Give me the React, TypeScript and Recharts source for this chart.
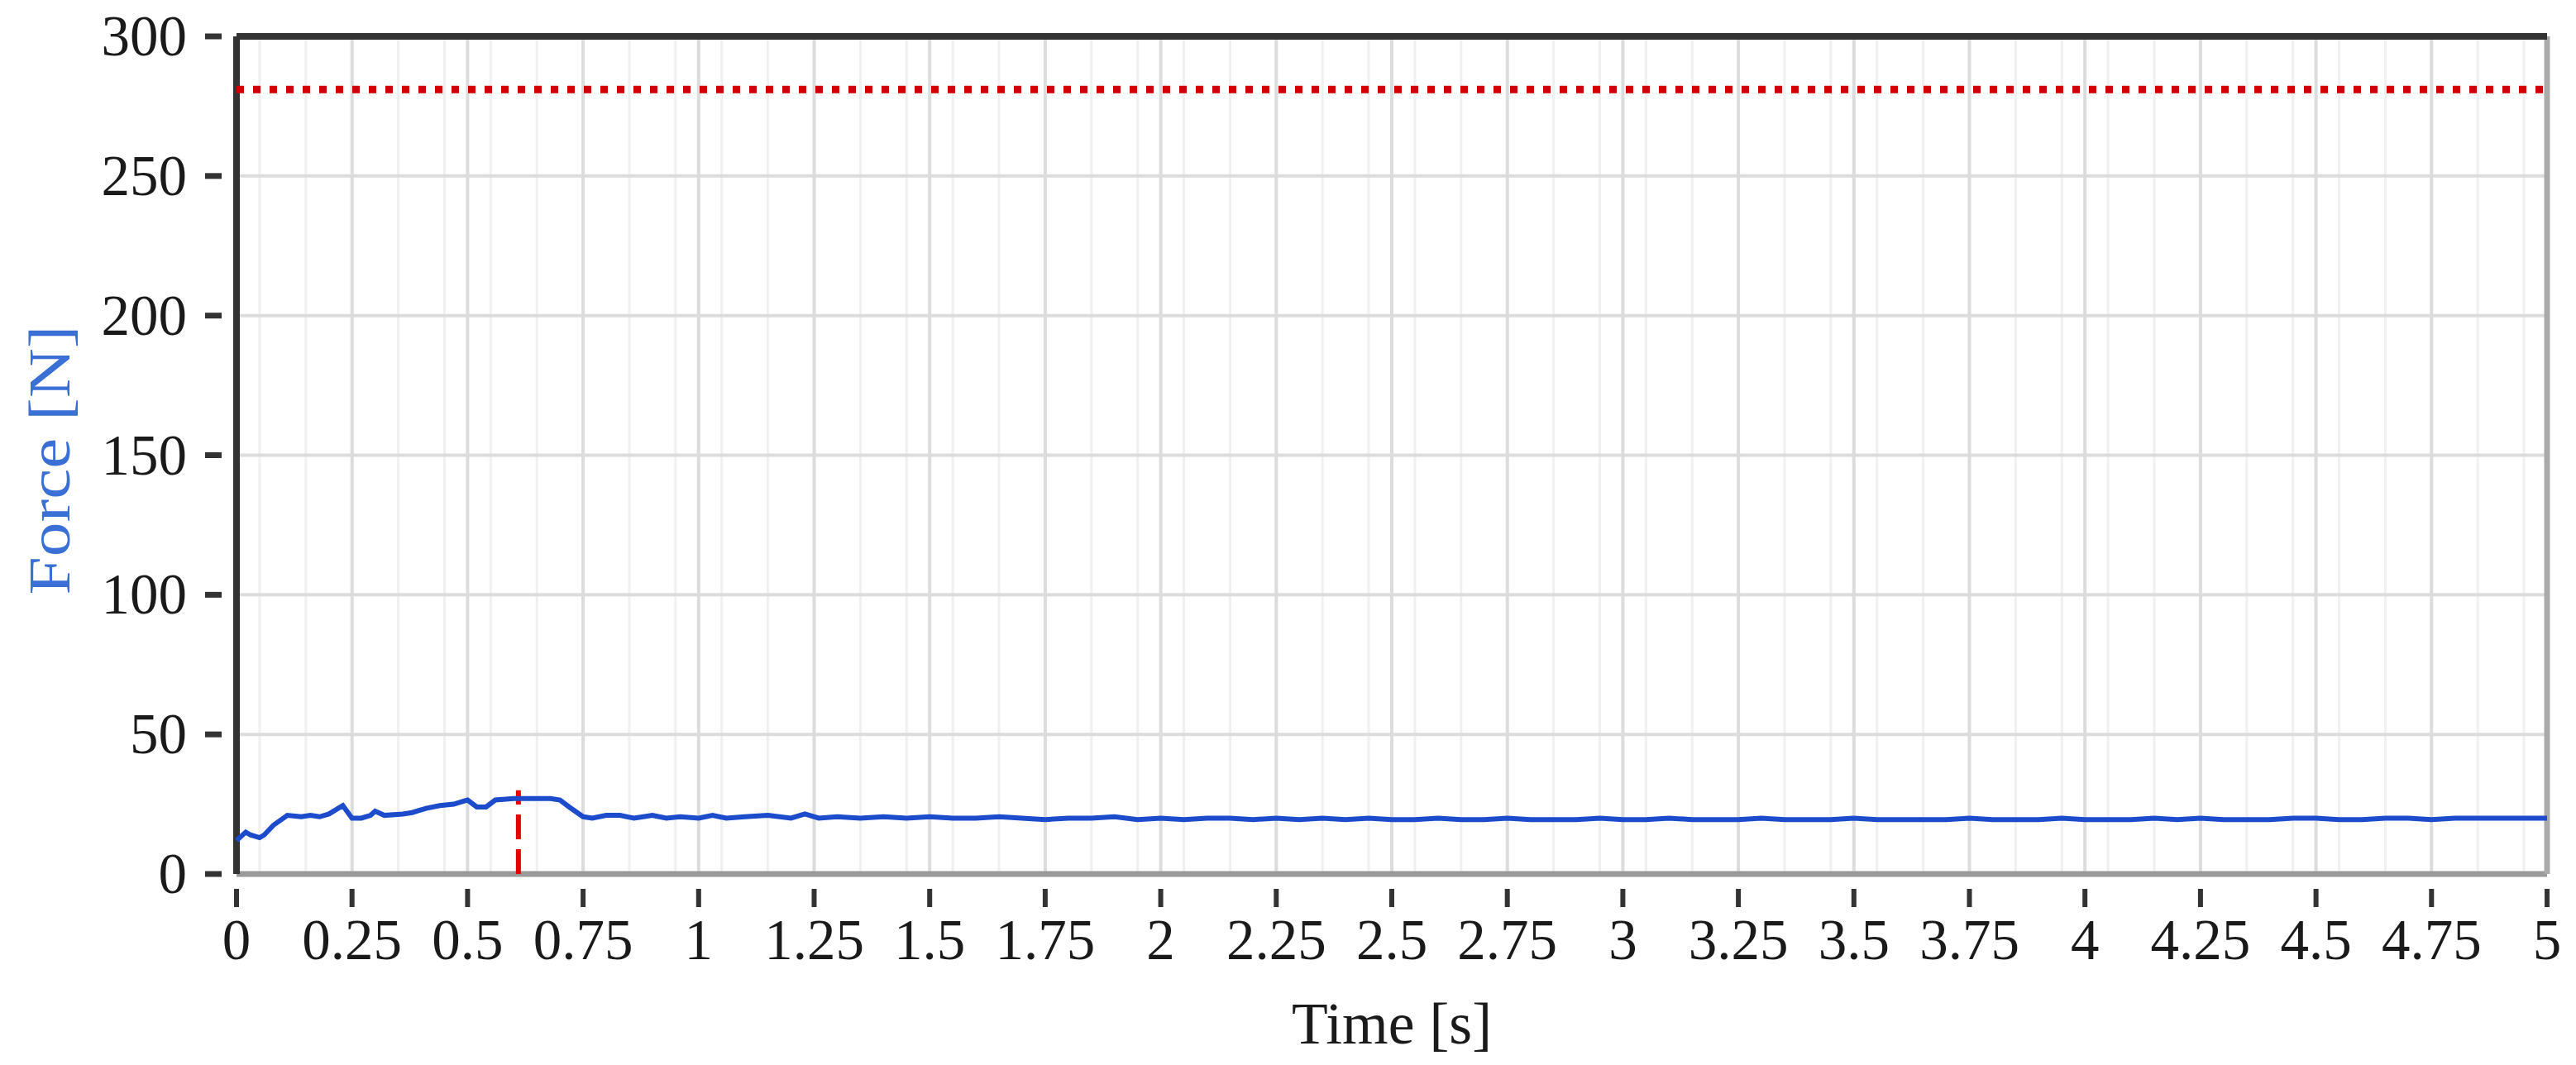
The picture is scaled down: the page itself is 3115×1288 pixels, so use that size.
import { LineChart, Line, XAxis, YAxis, CartesianGrid, ReferenceLine } from 'recharts';

const time = [
  0, 0.02, 0.03, 0.05, 0.06, 0.08, 0.11, 0.14, 0.16, 0.18, 0.2, 0.23, 0.25, 0.27, 0.29, 0.3,
  0.32, 0.36, 0.38, 0.41, 0.44, 0.47, 0.49, 0.5, 0.52, 0.54, 0.56, 0.6, 0.64, 0.68, 0.7, 0.72,
  0.75, 0.77, 0.8, 0.83, 0.86, 0.9, 0.93, 0.96, 1.0, 1.03, 1.06, 1.1, 1.15, 1.2, 1.23, 1.26,
  1.3, 1.35, 1.4, 1.45, 1.5, 1.55, 1.6, 1.65, 1.7, 1.75, 1.8, 1.85, 1.9, 1.95, 2.0, 2.05, 2.1,
  2.15, 2.2, 2.25, 2.3, 2.35, 2.4, 2.45, 2.5, 2.55, 2.6, 2.65, 2.7, 2.75, 2.8, 2.85, 2.9, 2.95,
  3.0, 3.05, 3.1, 3.15, 3.2, 3.25, 3.3, 3.35, 3.4, 3.45, 3.5, 3.55, 3.6, 3.65, 3.7, 3.75, 3.8,
  3.85, 3.9, 3.95, 4.0, 4.05, 4.1, 4.15, 4.2, 4.25, 4.3, 4.35, 4.4, 4.45, 4.5, 4.55, 4.6, 4.65,
  4.7, 4.75, 4.8, 4.85, 4.9, 4.95, 5.0,
];

const force = [
  12, 15, 14, 13, 14, 17.5, 21, 20.5, 21, 20.5, 21.5, 24.5, 20, 20, 21, 22.5,
  21, 21.5, 22, 23.5, 24.5, 25, 26, 26.5, 24, 24, 26.5, 27, 27, 27, 26.5, 24,
  20.5, 20, 21, 21, 20, 21, 20, 20.5, 20, 21, 20, 20.5, 21, 20, 21.5, 20,
  20.5, 20, 20.5, 20, 20.5, 20, 20, 20.5, 20, 19.5, 20, 20, 20.5, 19.5, 20, 19.5, 20,
  20, 19.5, 20, 19.5, 20, 19.5, 20, 19.5, 19.5, 20, 19.5, 19.5, 20, 19.5, 19.5, 19.5, 20,
  19.5, 19.5, 20, 19.5, 19.5, 19.5, 20, 19.5, 19.5, 19.5, 20, 19.5, 19.5, 19.5, 19.5, 20, 19.5,
  19.5, 19.5, 20, 19.5, 19.5, 19.5, 20, 19.5, 20, 19.5, 19.5, 19.5, 20, 20, 19.5, 19.5, 20,
  20, 19.5, 20, 20, 20, 20, 20,
];

const xTicks = [0, 0.25, 0.5, 0.75, 1, 1.25, 1.5, 1.75, 2, 2.25, 2.5, 2.75, 3, 3.25, 3.5, 3.75, 4, 4.25, 4.5, 4.75, 5];
const yTicks = [0, 50, 100, 150, 200, 250, 300];
const xMinorTicks = Array.from({ length: 101 }, (_, i) => Math.round(i * 5) / 100);
const yMinorTicks = Array.from({ length: 31 }, (_, i) => i * 10);

const forceLimit = 281;
const peakTime = 0.61;
const peakMarkTop = 30;

const data = time.map((t, i) => ({ t, force: force[i] }));

const FONT = '"Liberation Serif", "DejaVu Serif", serif';

function YTick(props: any) {
  const { x, y, payload } = props;
  return (
    <g>
      <line x1={x - 38} x2={x - 18} y1={y} y2={y} stroke="#333" strokeWidth={7} />
      <text x={x - 60} y={y} textAnchor="end" dominantBaseline="central" fontFamily={FONT} fontSize={69} fill="#1a1a1a">
        {payload.value}
      </text>
    </g>
  );
}

function XTick(props: any) {
  const { x, y, payload } = props;
  return (
    <g>
      <line x1={x} x2={x} y1={y + 18} y2={y + 40} stroke="#333" strokeWidth={6} />
      <text x={x} y={y + 103} textAnchor="middle" fontFamily={FONT} fontSize={69} fill="#1a1a1a">
        {payload.value}
      </text>
    </g>
  );
}

export default function App() {
  return (
    <div style={{ position: 'absolute', left: 0, top: 0, width: 3115, height: 1288, background: '#fff' }}>
      <LineChart width={3115} height={1288} data={data} margin={{ top: 44, right: 35, left: 0, bottom: 0 }}>
        <XAxis xAxisId="minor" type="number" dataKey="t" domain={[0, 5]} ticks={xMinorTicks} hide />
        <YAxis yAxisId="minor" type="number" domain={[0, 300]} ticks={yMinorTicks} hide />
        <CartesianGrid xAxisId="minor" yAxisId="minor" stroke="#f0f0f0" strokeWidth={3} />
        <CartesianGrid stroke="#dcdcdc" strokeWidth={4} />
        <XAxis
          type="number"
          dataKey="t"
          domain={[0, 5]}
          ticks={xTicks}
          interval={0}
          height={231}
          axisLine={false}
          tickLine={false}
          tickSize={0}
          tickMargin={0}
          tick={<XTick />}
          label={{
            content: (p: any) => {
              const vb = p.viewBox;
              return (
                <text x={vb.x + vb.width / 2} y={vb.y + 205} textAnchor="middle" fontFamily={FONT} fontSize={71} fill="#1a1a1a" textLength={242} lengthAdjust="spacingAndGlyphs">
                  Time [s]
                </text>
              );
            },
          }}
        />
        <YAxis
          type="number"
          domain={[0, 300]}
          ticks={yTicks}
          interval={0}
          width={286}
          axisLine={false}
          tickLine={false}
          tickSize={0}
          tickMargin={0}
          tick={<YTick />}
          label={{
            content: (p: any) => {
              const vb = p.viewBox;
              const cy = vb.y + vb.height / 2 + 6;
              return (
                <text x={60} y={cy} transform={`rotate(-90, 60, ${cy})`} textAnchor="middle" dominantBaseline="central" fontFamily={FONT} fontSize={71} fill="#3a6fd6" textLength={326} lengthAdjust="spacingAndGlyphs">
                  Force [N]
                </text>
              );
            },
          }}
        />
        <ReferenceLine y={0} stroke="#999" strokeWidth={7} ifOverflow="visible" />
        <ReferenceLine x={5} stroke="#aaa" strokeWidth={7} ifOverflow="visible" />
        <ReferenceLine y={300} stroke="#333" strokeWidth={8} ifOverflow="visible" />
        <ReferenceLine x={0} stroke="#333" strokeWidth={8} ifOverflow="visible" />
        <ReferenceLine y={forceLimit} stroke="#d10000" strokeWidth={9} strokeDasharray="9 11" />
        <ReferenceLine
          segment={[{ x: peakTime, y: 0 }, { x: peakTime, y: peakMarkTop }]}
          stroke="#e80000"
          strokeWidth={6}
          strokeDasharray="30 12"
        />
        <Line type="linear" dataKey="force" stroke="#1c4bcc" strokeWidth={6} dot={false} isAnimationActive={false} />
      </LineChart>
    </div>
  );
}
